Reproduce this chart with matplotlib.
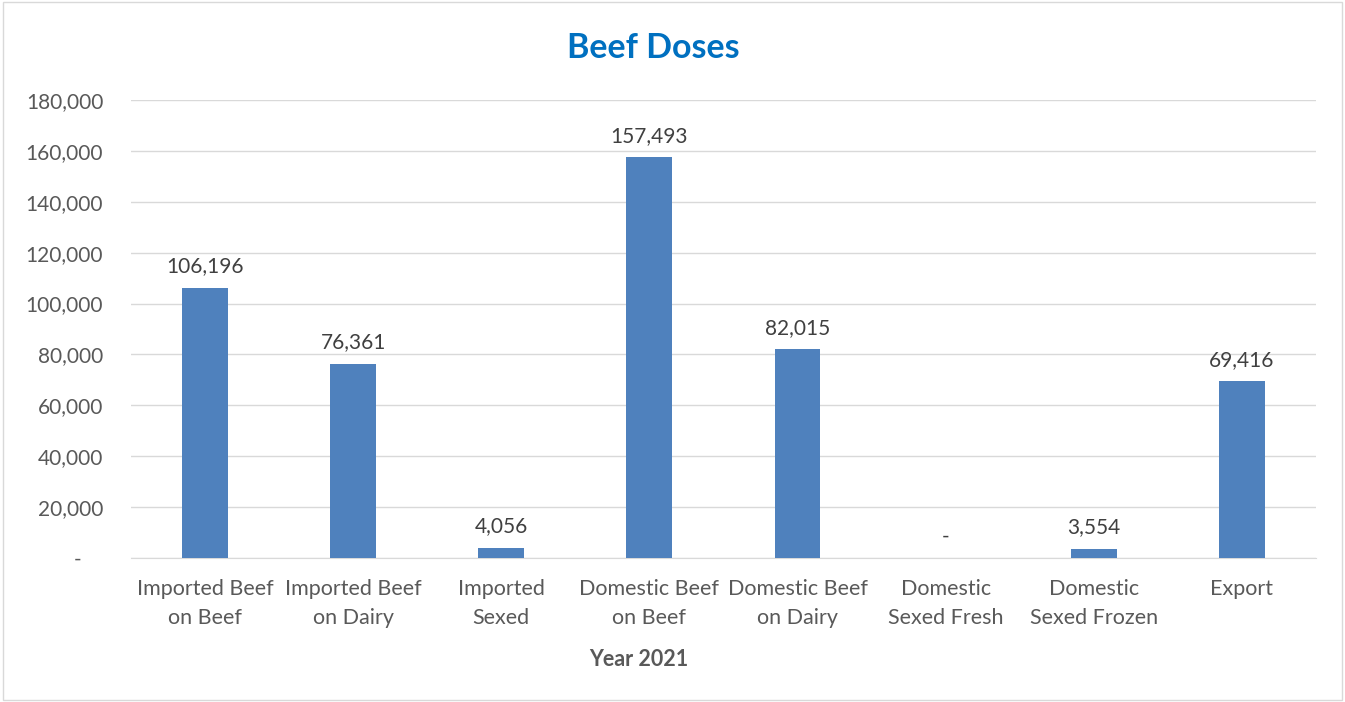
import matplotlib.pyplot as plt
from matplotlib.patches import Rectangle

# Dados do gráfico
categorias = ['Imported Beef\non Beef', 'Imported Beef\non Dairy', 'Imported\nSexed',
              'Domestic Beef\non Beef', 'Domestic Beef\non Dairy', 'Domestic\nSexed Fresh',
              'Domestic\nSexed Frozen', 'Export']
doses = [106196, 76361, 4056, 157493, 82015, 0, 3554, 69416]
y_ticks = [0, 20000, 40000, 60000, 80000, 100000, 120000, 140000, 160000, 180000]

plt.rcParams['font.family'] = ['Lato', 'DejaVu Sans']

fig = plt.figure(figsize=(13.45, 7.02), dpi=100)
ax = fig.add_axes([0.0974, 0.2051, 0.881, 0.6524])

x = range(len(categorias))
ax.bar(x, doses, width=0.31, color='#4F81BD', zorder=3)

# Rótulos dos valores
for xi, v in zip(x, doses):
    txt = f'{v:,}' if v else '-'
    ax.text(xi, v + 4500, txt, ha='center', va='bottom', fontsize=15, color='#404040')

ax.set_xlim(-0.5, len(categorias) - 0.5)
ax.set_ylim(0, 180000)
ax.set_yticks(y_ticks)
ax.set_yticklabels([f'{t:,}' if t else '-    ' for t in y_ticks])
ax.set_xticks(list(x))
ax.set_xticklabels(categorias, linespacing=1.55)
ax.tick_params(axis='both', length=0, labelsize=15, labelcolor='#595959')
ax.tick_params(axis='x', labelsize=15.5, pad=15)
ax.tick_params(axis='y', pad=20)

ax.grid(axis='y', color='#d9d9d9', linewidth=1, zorder=0)
for s in ['top', 'right', 'left']:
    ax.spines[s].set_visible(False)
ax.spines['bottom'].set_color('#d9d9d9')

fig.text(0.475, 1 - 660 / 702, 'Year 2021', ha='center', va='center', fontsize=15.5,
         fontweight='bold', color='#595959')
fig.text(0.486, 1 - 48 / 702, 'Beef Doses', ha='center', va='center', fontsize=24.5,
         fontweight='bold', color='#0070C0')

# Borda da figura
fig.patches.append(Rectangle((0.002, 0.003), 0.996, 0.994, transform=fig.transFigure,
                             fill=False, edgecolor='#d9d9d9', linewidth=1))

fig.savefig('out.png', dpi=100)
